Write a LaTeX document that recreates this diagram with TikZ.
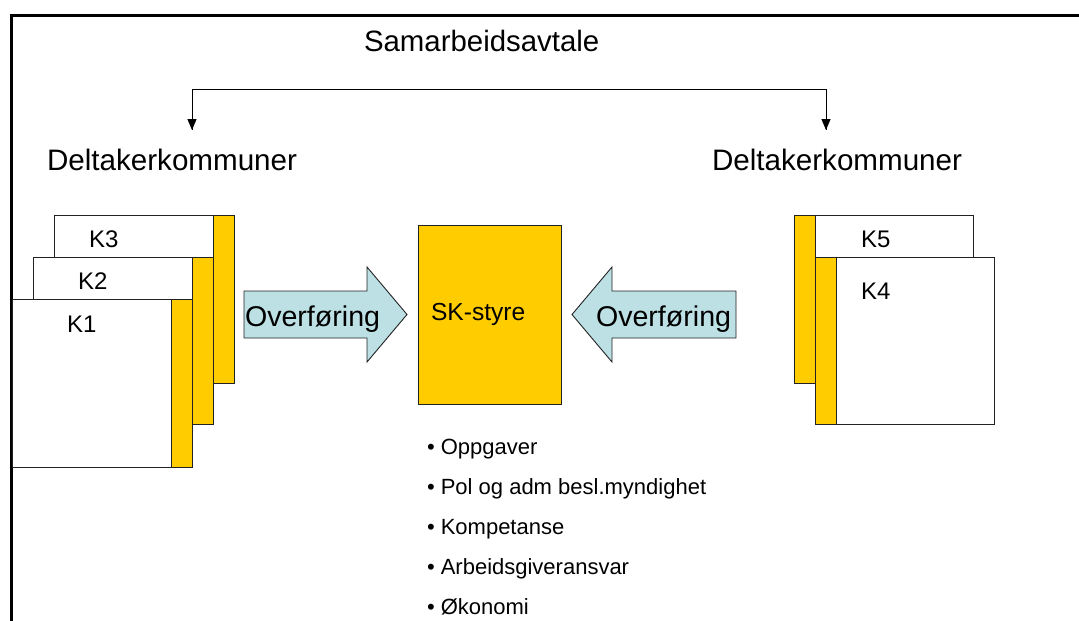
\documentclass[tikz,border=0pt]{standalone}
\usepackage{fontspec}
\setmainfont{Liberation Sans}
\usetikzlibrary{arrows.meta}
\definecolor{kyellow}{HTML}{FFCC00}
\definecolor{kblue}{HTML}{BCE0E4}
\definecolor{kline}{HTML}{222222}
\tikzset{
  yelbox/.style={draw=kline, line width=0.9pt, fill=kyellow, anchor=north west, inner sep=0pt, outer sep=0pt},
  whbox/.style={draw=kline, line width=0.9pt, fill=white, anchor=north west, inner sep=0pt, outer sep=0pt},
  txt/.style={anchor=base west, inner sep=0pt, outer sep=0pt, text=black},
  barrow/.style={draw=kline, line width=0.9pt, fill=kblue, line join=miter},
  conn/.style={draw=black, line width=1pt, -{Triangle[length=11pt,width=9pt]}},
}
\begin{document}
\begin{tikzpicture}[x=1pt,y=-1pt]
\useasboundingbox (0,0) rectangle (1079,621);
\fill[white] (0,0) rectangle (1079,621);
% frame
\draw[line width=3pt, line join=miter] (11,622) -- (11,15) -- (1080,15);

% title and top connector
\node[txt, font=\fontsize{29.4}{31}\selectfont] (samarb) at (364,51) {Samarbeidsavtale};
\coordinate (cmid) at (509,89);
\coordinate (ltip) at (192,130);
\coordinate (rtip) at (826,130);
\draw[line width=1pt] (cmid) -| (ltip);
\draw[line width=1pt] (cmid) -| (rtip);
\draw[conn] (192,118) -- (ltip);
\draw[conn] (826,118) -- (rtip);

\node[txt, font=\fontsize{29.6}{31}\selectfont] (dleft) at (47,170) {Deltakerkommuner};
\node[txt, font=\fontsize{29.6}{31}\selectfont] (dright) at (712,170) {Deltakerkommuner};

% left stack
\node[yelbox, minimum width=180pt, minimum height=168pt] (k3y) at (54,215) {};
\node[whbox, minimum width=159pt, minimum height=168pt] (k3) at (54,215) {};
\node[yelbox, minimum width=180pt, minimum height=167pt] (k2y) at (33,257) {};
\node[whbox, minimum width=159pt, minimum height=167pt] (k2) at (33,257) {};
\node[yelbox, minimum width=180pt, minimum height=168pt] (k1y) at (12,299) {};
\node[whbox, minimum width=159pt, minimum height=168pt] (k1) at (12,299) {};
\node[txt, font=\fontsize{24}{26}\selectfont] (k3t) at (89,247) {K3};
\node[txt, font=\fontsize{24}{26}\selectfont] (k2t) at (78,289) {K2};
\node[txt, font=\fontsize{24}{26}\selectfont] (k1t) at (67,332) {K1};

% right stack
\node[yelbox, minimum width=179pt, minimum height=168pt] (k5y) at (794,215) {};
\node[whbox, minimum width=158pt, minimum height=168pt] (k5) at (815,215) {};
\node[yelbox, minimum width=179pt, minimum height=167pt] (k4y) at (815,257) {};
\node[whbox, minimum width=158pt, minimum height=167pt] (k4) at (836,257) {};
\node[txt, font=\fontsize{24}{26}\selectfont] (k5t) at (861,247) {K5};
\node[txt, font=\fontsize{24}{26}\selectfont] (k4t) at (861,299) {K4};

% centre box
\node[yelbox, minimum width=143pt, minimum height=179pt] (sk) at (418,225) {};
\node[txt, font=\fontsize{24.6}{26}\selectfont] (skt) at (431,320) {SK-styre};

% block arrows
\draw[barrow] (244,291) -- (367,291) -- (367,267) -- (407,314.5) -- (367,362) -- (367,338) -- (244,338) -- cycle;
\draw[barrow] (736,291) -- (612,291) -- (612,267) -- (572,314.5) -- (612,362) -- (612,338) -- (736,338) -- cycle;
\node[txt, font=\fontsize{28.6}{30}\selectfont] (ovl) at (245,326) {Overføring};
\node[txt, font=\fontsize{28.6}{30}\selectfont] (ovr) at (596,326) {Overføring};

% bullets
\foreach \t [count=\i] in {Oppgaver, Pol og adm besl.myndighet, Kompetanse, Arbeidsgiveransvar, Økonomi}{
  \node[txt, font=\fontsize{22}{24}\selectfont] (b\i) at (427,{454+40*(\i-1)}) {•\ \t};
}
\end{tikzpicture}
\end{document}
